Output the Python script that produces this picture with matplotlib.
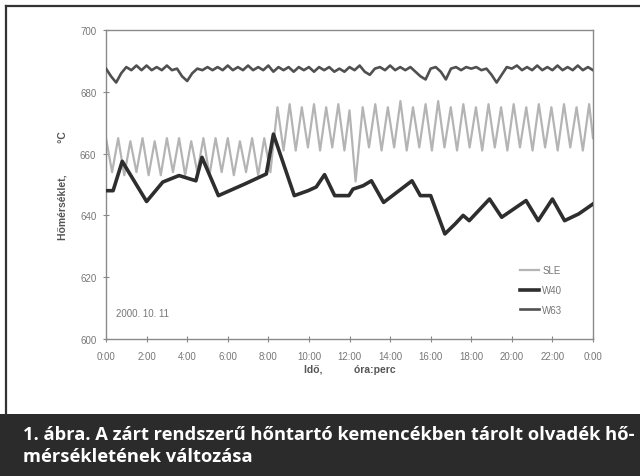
import matplotlib
matplotlib.use("Agg")
import matplotlib.pyplot as plt
from matplotlib.lines import Line2D
from matplotlib.patches import Rectangle

# ---- data -------------------------------------------------------------
# time in hours from midnight, temperature in °C

sle_time = [0.0, 0.3, 0.6, 0.9, 1.2, 1.5, 1.8, 2.1, 2.4, 2.7, 3.0, 3.3, 3.6, 3.9,
            4.2, 4.5, 4.8, 5.1, 5.4, 5.7, 6.0, 6.3, 6.6, 6.9, 7.2, 7.5, 7.8, 8.1,
            8.45, 8.75, 9.05, 9.35, 9.65, 9.95, 10.25, 10.55, 10.85, 11.15, 11.45,
            11.75, 12.0, 12.3,
            12.65, 12.96, 13.27, 13.58, 13.89, 14.20, 14.51, 14.82, 15.13, 15.44,
            15.75, 16.06, 16.37, 16.68, 16.99, 17.30, 17.61, 17.92, 18.23, 18.54,
            18.85, 19.16, 19.47, 19.78, 20.09, 20.40, 20.71, 21.02, 21.33, 21.64,
            21.95, 22.26, 22.57, 22.88, 23.19, 23.50, 23.81, 24.0]
sle_temp = [665, 654, 665, 653, 664, 654, 665, 653, 664, 653, 665, 654, 665, 653,
            664, 654, 665, 653, 665, 654, 665, 653, 664, 654, 665, 653, 665, 654,
            675, 661, 676, 661, 675, 662, 676, 661, 675, 662, 676,
            661, 674, 651,
            675, 662, 676, 661, 675, 662, 677, 661, 675, 662,
            676, 661, 677, 662, 675, 661, 676, 662, 675, 661,
            676, 662, 675, 661, 676, 662, 675, 661, 676, 662,
            675, 661, 676, 662, 675, 661, 676, 665]

w40_time = [0.0, 0.35, 0.8, 2.0, 2.8, 3.6, 4.43, 4.73, 5.54, 6.85, 7.9, 8.25,
            9.28, 9.96, 10.36, 10.77, 11.27, 11.97, 12.17, 12.67, 13.08, 13.68,
            15.08, 15.49, 16.0, 16.7, 17.2, 17.6, 17.9, 18.9, 19.5, 20.1, 20.7,
            21.3, 22.0, 22.6, 23.3, 24.0]
w40_temp = [648.0, 648.0, 657.5, 644.5, 650.8, 652.9, 651.2, 658.8, 646.4, 650.2,
            653.4, 666.3, 646.4, 648.0, 649.2, 653.2, 646.4, 646.4, 648.5, 649.6,
            651.2, 644.2, 651.2, 646.4, 646.4, 634.0, 637.2, 640.0, 638.3, 645.3,
            639.4, 642.1, 644.8, 638.3, 645.3, 638.3, 640.5, 643.7]

w63_time = [i * 0.25 for i in range(97)]
w63_temp = [687.5, 685.0, 683.0, 686.0, 688.0, 687.0, 688.5, 687.0, 688.5, 687.0,
            688.0, 687.0, 688.5, 687.0, 687.5, 685.0, 683.5, 686.0, 687.5, 687.0,
            688.0, 687.0, 688.0, 687.0, 688.5, 687.0, 688.0, 687.0, 688.5, 687.0,
            688.0, 687.0, 688.5, 686.5, 688.0, 687.0, 688.0, 686.5, 688.0, 687.0,
            688.0, 686.5, 688.0, 687.0, 688.0, 686.5, 687.5, 686.5, 688.0, 687.0,
            688.5, 686.5, 685.5, 687.5, 688.0, 687.0, 688.5, 687.0, 688.0, 687.0,
            688.0, 686.5, 685.0, 684.0, 687.5, 688.0, 686.5, 684.0, 687.5, 688.0,
            687.0, 688.0, 687.5, 688.0, 687.0, 687.5, 685.5, 683.0, 685.5, 688.0,
            687.5, 688.5, 687.0, 688.0, 687.0, 688.5, 687.0, 688.0, 687.0, 688.5,
            687.0, 688.0, 687.0, 688.5, 687.0, 688.0, 687.0]

x_ticks = list(range(0, 25, 2))
x_tick_labels = ["0:00", "2:00", "4:00", "6:00", "8:00", "10:00", "12:00",
                 "14:00", "16:00", "18:00", "20:00", "22:00", "0:00"]
y_ticks = [600, 620, 640, 660, 680, 700]

series_names = ["SLE", "W40", "W63"]
date_note = "2000. 10. 11"
caption = ("1. ábra. A zárt rendszerű hőntartó kemencékben tárolt olvadék hő-\n"
           "mérsékletének változása")

# ---- figure -----------------------------------------------------------
W, H = 640, 477
fig = plt.figure(figsize=(W / 100, H / 100), dpi=100)
fig.patch.set_facecolor("white")

ax = fig.add_axes([106 / W, 1 - 340 / H, (593 - 106) / W, (340 - 31) / H])

ax.plot(sle_time, sle_temp, color="#b4b4b4", lw=1.6, label=series_names[0], zorder=2)
ax.plot(w40_time, w40_temp, color="#2e2e2e", lw=2.6, label=series_names[1], zorder=3)
ax.plot(w63_time, w63_temp, color="#505050", lw=1.9, label=series_names[2], zorder=3)

ax.set_xlim(0, 24)
ax.set_ylim(600, 700)
ax.set_xticks(x_ticks)
ax.set_xticklabels(x_tick_labels)
ax.set_yticks(y_ticks)

for lab in ax.get_xticklabels() + ax.get_yticklabels():
    lab.set_fontfamily("Liberation Sans")
    lab.set_fontsize(7)
    lab.set_color("#777777")

ax.tick_params(axis="both", direction="inout", length=4, width=0.8,
               color="#888888")
ax.tick_params(axis="x", pad=7)
ax.tick_params(axis="y", pad=5)
for s in ax.spines.values():
    s.set_color("#8a8a8a")
    s.set_linewidth(1.0)

ax.set_xlabel("Idő,           óra:perc", fontsize=7.5, family="Liberation Sans",
              color="#555555", fontweight="bold", labelpad=2)
ax.set_ylabel("Hőmérséklet,           °C", fontsize=7.5, family="Liberation Sans",
              color="#555555", fontweight="bold", labelpad=9)

ax.text(0.5, 608.5, date_note, fontsize=7, family="Liberation Sans",
        color="#777777", va="center", ha="left")

leg = ax.legend(loc="lower right", bbox_to_anchor=(0.955, 0.05), frameon=False,
                prop={"family": "Liberation Sans", "size": 7},
                handlelength=2.0, handletextpad=0.3, labelspacing=1.0)
for t in leg.get_texts():
    t.set_color("#777777")

# outer frame of the figure panel
fig.add_artist(Line2D([6 / W, 6 / W], [1 - 415 / H, 1 - 7 / H],
                      transform=fig.transFigure, color="#333333", lw=1.6))
fig.add_artist(Line2D([6 / W, 1.0], [1 - 7 / H, 1 - 7 / H],
                      transform=fig.transFigure, color="#333333", lw=1.6))

# caption band
fig.add_artist(Rectangle((0, 0), 1, (H - 415) / H, transform=fig.transFigure,
                         facecolor="#2b2b2b", edgecolor="none"))
fig.text(23 / W, 1 - 446 / H, caption, color="white", fontsize=13.2,
         family="Open Sans", fontweight="bold", va="center", ha="left",
         linespacing=1.3)

fig.savefig("out.png", dpi=100)
